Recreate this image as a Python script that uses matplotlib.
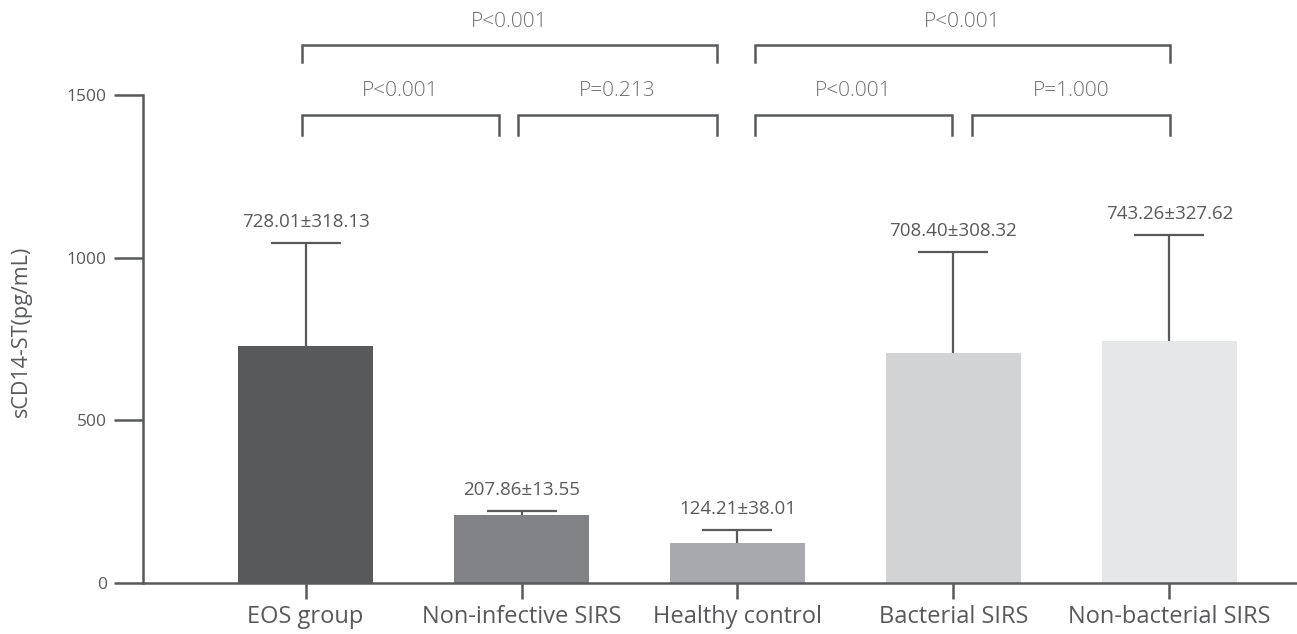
import matplotlib
matplotlib.use("Agg")
import matplotlib.pyplot as plt

# ---- data ----
groups = ["EOS group", "Non-infective SIRS", "Healthy control",
          "Bacterial SIRS", "Non-bacterial SIRS"]
means = [728.01, 207.86, 124.21, 708.40, 743.26]
sds = [318.13, 13.55, 38.01, 308.32, 327.62]
bar_colors = ["#58595b", "#808285", "#a7a9ac", "#d1d3d4", "#e6e7e8"]

# significance brackets: (x_start, x_end, level, label)
comparisons = [
    (-0.016, 1.905, "upper", "P<0.001"),
    (-0.016, 0.896, "lower", "P<0.001"),
    (0.984, 1.905, "lower", "P=0.213"),
    (2.081, 4.002, "upper", "P<0.001"),
    (2.081, 2.993, "lower", "P<0.001"),
    (3.086, 4.002, "lower", "P=1.000"),
]
y_ticks = [0, 500, 1000, 1500]
y_label = "sCD14-ST(pg/mL)"

# ---- style ----
plt.rcParams["font.family"] = ["Open Sans", "DejaVu Sans"]
ink = "#58595b"
lw = 1.8

fig = plt.figure(figsize=(12.97, 6.34), dpi=100)
ax = fig.add_axes([0.11026, 0.08044, 0.88974, 0.91956])

x = list(range(len(groups)))
ax.bar(x, means, width=0.625, color=bar_colors, zorder=2)
_, caps, _ = ax.errorbar(x, means, yerr=[[0] * len(sds), sds], fmt="none",
                         ecolor=ink, elinewidth=1.6, capsize=25.5,
                         capthick=1.6, zorder=3)
# one-sided error bars: keep only the upper caps
for cap in caps:
    if list(cap.get_ydata()) == list(means):
        cap.set_visible(False)

for xi, m, s in zip(x, means, sds):
    ax.annotate(f"{m:.2f}\u00b1{s:.2f}", (xi, m + s), xytext=(0, 15),
                textcoords="offset points", ha="center", va="center",
                fontsize=13.5, color=ink)

levels = {"upper": (1653.7, 1601.4, 1724), "lower": (1438.5, 1377, 1512)}
for x0, x1, lvl, label in comparisons:
    ytop, ybot, ytxt = levels[lvl]
    ax.plot([x0, x0, x1, x1], [ybot, ytop, ytop, ybot], color=ink, lw=lw,
            solid_joinstyle="miter", clip_on=False, zorder=3)
    ax.text((x0 + x1) / 2, ytxt, label, ha="center", va="center",
            fontsize=15, color="#6d6e71", fontweight="light")

ax.set_xlim(-0.7523, 4.5903)
ax.set_ylim(0, 1792)
ax.set_yticks(y_ticks)
ax.set_xticks(x)
ax.set_xticklabels(groups)

for side in ("top", "right"):
    ax.spines[side].set_visible(False)
for side in ("left", "bottom"):
    ax.spines[side].set_color(ink)
    ax.spines[side].set_linewidth(lw)
ax.spines["left"].set_bounds(0, 1500)

ax.tick_params(axis="y", length=21, width=lw, color=ink, pad=5,
               labelsize=12.5, labelcolor=ink)
ax.tick_params(axis="x", length=11.5, width=lw, color=ink, pad=4,
               labelsize=17, labelcolor=ink)

ax.set_ylabel(y_label, fontsize=15.5, color=ink)
ax.yaxis.set_label_coords(-0.096, 0.432)

fig.savefig("out.png", dpi=100)
